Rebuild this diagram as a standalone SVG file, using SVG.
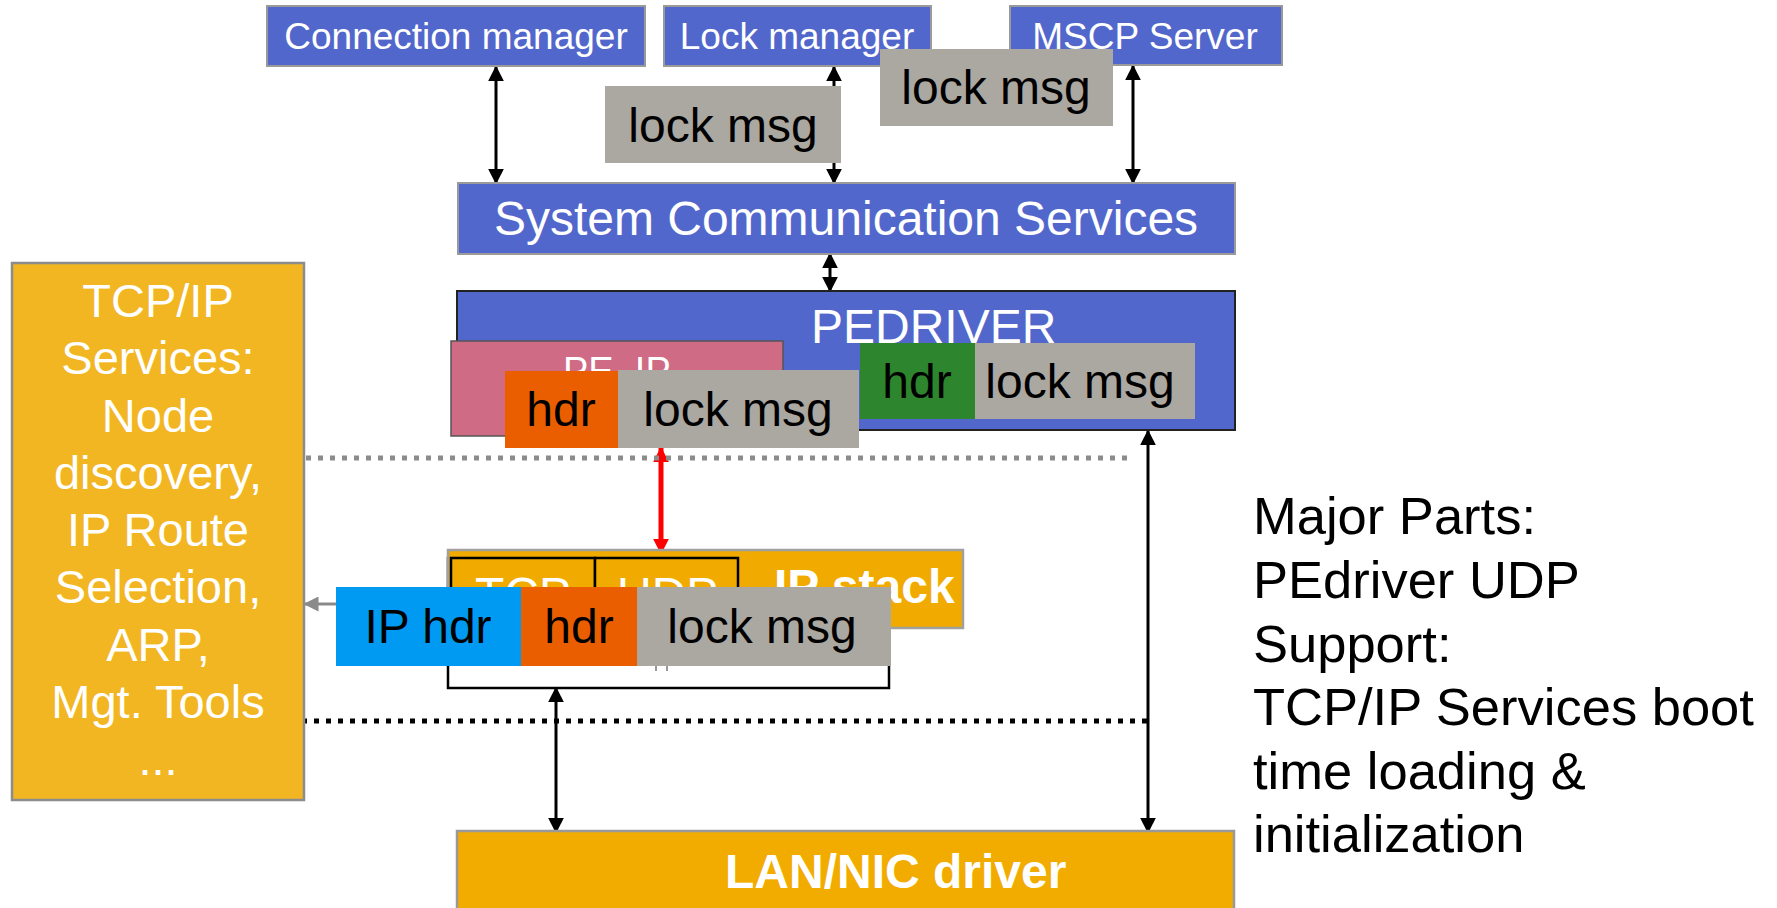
<svg xmlns="http://www.w3.org/2000/svg" width="1777" height="908" viewBox="0 0 1777 908">
<defs>
<style>
text{font-family:"Liberation Sans",Arial,sans-serif}
.blue{fill:#5267cc;stroke:#9a9a9a;stroke-width:2}
.msg{fill:#aba7a1}
.w{fill:#ffffff}
.k{fill:#000000}
.c{text-anchor:middle}
.b{font-weight:bold}
.ln{stroke:#000;stroke-width:3;fill:none}
</style>
<marker id="ah" viewBox="0 0 10 10" refX="9" refY="5" markerWidth="16" markerHeight="16" markerUnits="userSpaceOnUse" orient="auto-start-reverse"><path d="M0,0 L10,5 L0,10 Z" fill="#000"/></marker>
<marker id="ahr" viewBox="0 0 10 10" refX="9" refY="5" markerWidth="16" markerHeight="16" markerUnits="userSpaceOnUse" orient="auto-start-reverse"><path d="M0,0 L10,5 L0,10 Z" fill="#ff0000"/></marker>
<marker id="ahg" viewBox="0 0 10 10" refX="9" refY="5" markerWidth="15" markerHeight="15" markerUnits="userSpaceOnUse" orient="auto-start-reverse"><path d="M0,0 L10,5 L0,10 Z" fill="#8a8a8a"/></marker>
</defs>
<rect width="1777" height="908" fill="#ffffff"/>

<g id="connectors">
<line class="ln" x1="496" y1="67" x2="496" y2="183" marker-start="url(#ah)" marker-end="url(#ah)"/>
<line class="ln" x1="834" y1="67" x2="834" y2="183" marker-start="url(#ah)" marker-end="url(#ah)"/>
<line class="ln" x1="1133" y1="66" x2="1133" y2="183" marker-start="url(#ah)" marker-end="url(#ah)"/>
<line class="ln" x1="830" y1="254" x2="830" y2="291" marker-start="url(#ah)" marker-end="url(#ah)"/>
<line x1="661" y1="448" x2="661" y2="553" stroke="#ff0000" stroke-width="5" marker-start="url(#ahr)" marker-end="url(#ahr)"/>
<line x1="336" y1="604" x2="305" y2="604" stroke="#8a8a8a" stroke-width="3" marker-end="url(#ahg)"/>
<line class="ln" x1="556" y1="688" x2="556" y2="832" marker-start="url(#ah)" marker-end="url(#ah)"/>
<line class="ln" x1="1148" y1="431" x2="1148" y2="832" marker-start="url(#ah)" marker-end="url(#ah)"/>
<line x1="306" y1="458" x2="1130" y2="458" stroke="#8c8c8c" stroke-width="5" stroke-dasharray="5 7"/>
<line x1="302" y1="721" x2="1150" y2="721" stroke="#000" stroke-width="5" stroke-dasharray="5 7"/>
</g>

<g id="connection-manager">
<rect class="blue" x="267" y="6" width="378" height="60"/>
<text class="w c" x="456" y="49" font-size="37">Connection manager</text>
</g>
<g id="lock-manager">
<rect class="blue" x="664" y="6" width="267" height="60"/>
<text class="w c" x="797" y="49" font-size="37">Lock manager</text>
</g>
<g id="mscp-server">
<rect class="blue" x="1010" y="6" width="272" height="59"/>
<text class="w c" x="1145" y="49" font-size="37">MSCP Server</text>
</g>
<g id="lock-msg-1">
<rect class="msg" x="605" y="86" width="236" height="77"/>
<text class="k c" x="723" y="142" font-size="48">lock msg</text>
</g>
<g id="lock-msg-2">
<rect class="msg" x="880" y="49" width="233" height="77"/>
<text class="k c" x="996" y="104" font-size="48">lock msg</text>
</g>

<g id="scs">
<rect class="blue" x="458" y="183" width="777" height="71"/>
<text class="w c" x="846" y="235" font-size="48">System Communication Services</text>
</g>

<g id="pedriver">
<rect x="457" y="291" width="778" height="139" fill="#5267cc" stroke="#222" stroke-width="2"/>
<text class="w" x="811" y="343" font-size="48">PEDRIVER</text>
</g>
<g id="pe-ip">
<rect x="451" y="341" width="332" height="95" fill="#cf6b84" stroke="#555" stroke-width="1.5"/>
<text class="w" x="563" y="384" font-size="38">PE_IP</text>
</g>
<g id="pe-ip-packet">
<rect x="505" y="371" width="113" height="77" fill="#ea5e00"/>
<text class="k c" x="561" y="426" font-size="48">hdr</text>
<rect class="msg" x="618" y="370" width="241" height="78"/>
<text class="k c" x="738" y="426" font-size="48">lock msg</text>
</g>
<g id="pedriver-packet">
<rect x="860" y="343" width="115" height="76" fill="#2d862d"/>
<text class="k c" x="917" y="398" font-size="48">hdr</text>
<rect class="msg" x="975" y="343" width="220" height="76"/>
<text class="k c" x="1080" y="398" font-size="48">lock msg</text>
</g>

<g id="ip-stack">
<rect x="448" y="558" width="441" height="130" fill="#ffffff" stroke="#000" stroke-width="2.5"/>
<rect x="448" y="550" width="515" height="78" fill="#f1ab00" stroke="#a0a0a0" stroke-width="2.5"/>
<rect x="451" y="558" width="144" height="70" fill="#f1ab00" stroke="#000" stroke-width="2.5"/>
<rect x="595" y="558" width="143" height="70" fill="#f1ab00" stroke="#000" stroke-width="2.5"/>
<text class="w" x="475" y="611" font-size="48">TCP</text>
<text class="w" x="617" y="611" font-size="48">UDP</text>
<text class="w b" x="774" y="603" font-size="48">IP stack</text>
<line x1="656" y1="666" x2="656" y2="671" stroke="#999" stroke-width="2"/>
<line x1="667" y1="666" x2="667" y2="671" stroke="#999" stroke-width="2"/>
</g>
<g id="ip-packet">
<rect x="336" y="587" width="185" height="79" fill="#009af2"/>
<text class="k c" x="428" y="643" font-size="48">IP hdr</text>
<rect x="521" y="587" width="116" height="79" fill="#ea5e00"/>
<text class="k c" x="579" y="643" font-size="48">hdr</text>
<rect class="msg" x="637" y="587" width="254" height="79"/>
<text class="k c" x="762" y="643" font-size="48">lock msg</text>
</g>

<g id="tcpip-services">
<rect x="12" y="263" width="292" height="537" fill="#f2b623" stroke="#8c8c8c" stroke-width="2.5"/>
<g class="w c" font-size="47">
<text x="158" y="317">TCP/IP</text>
<text x="158" y="374">Services:</text>
<text x="158" y="432">Node</text>
<text x="158" y="489">discovery,</text>
<text x="158" y="546">IP Route</text>
<text x="158" y="603">Selection,</text>
<text x="158" y="661">ARP,</text>
<text x="158" y="718">Mgt. Tools</text>
<text x="158" y="775">...</text>
</g>
</g>

<g id="lan-nic">
<rect x="457" y="831" width="777" height="80" fill="#f2ac00" stroke="#999" stroke-width="2.5"/>
<text class="w b" x="725" y="888" font-size="48">LAN/NIC driver</text>
</g>

<g id="notes" font-size="52.5" fill="#000">
<text x="1253" y="534">Major Parts:</text>
<text x="1253" y="598">PEdriver UDP</text>
<text x="1253" y="662">Support:</text>
<text x="1253" y="725">TCP/IP Services boot</text>
<text x="1253" y="789">time loading &amp;</text>
<text x="1253" y="852">initialization</text>
</g>
</svg>
